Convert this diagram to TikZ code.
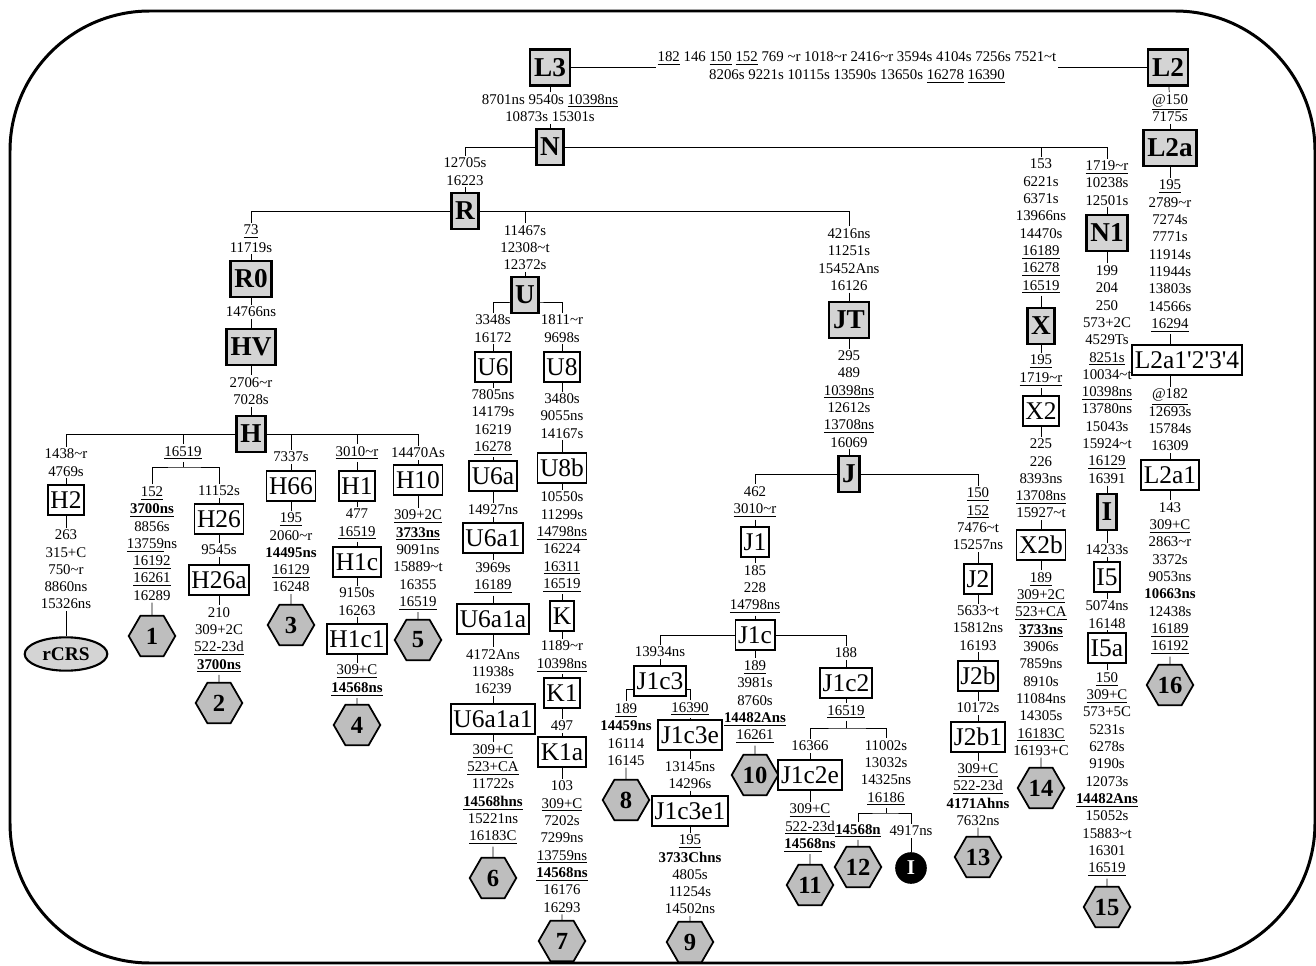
\documentclass[tikz,border=0pt]{standalone}
\usepackage{fontspec}
\setmainfont{Liberation Serif}
\usetikzlibrary{shapes.geometric,backgrounds}
\newcommand{\unl}[1]{\underline{#1}}
\newcommand{\tild}{\textasciitilde}
\definecolor{boxgray}{HTML}{D4D4D4}
\definecolor{hexgray}{HTML}{BEBEBE}
\tikzset{
  grpbox/.style={draw,line width=1.6pt,fill=boxgray,font=\fontsize{15.5}{18}\selectfont\bfseries,inner xsep=2.3pt,inner ysep=1pt,minimum height=20.5pt},
  subbox/.style={draw,line width=1pt,fill=white,font=\fontsize{14.5}{17}\selectfont,inner xsep=1.5pt,inner ysep=1pt,minimum height=17pt},
  muttext/.style={font=\fontsize{8.45}{9.86}\selectfont,align=center,inner sep=1pt},
  hexnode/.style={regular polygon,regular polygon sides=6,draw,line width=1pt,fill=hexgray,minimum size=26.5pt,inner sep=0pt,font=\fontsize{14}{16}\selectfont\bfseries},
  linkline/.style={line width=1pt}
}
\begin{document}
\begin{tikzpicture}[x=0.02cm,y=-0.02cm]
\useasboundingbox (0,0) rectangle (1316,966);
\draw[line width=1.7pt,rounded corners=2.8cm] (10,11) rectangle (1315,963);
% root
\node[grpbox] (L3) at (550,67.5) {L3};
\node[muttext] (mL3L2) at (857,67.5) {\unl{182} 146 \unl{150} \unl{152} 769 \tild r 1018\tild r 2416\tild r 3594s 4104s 7256s 7521\tild t\\8206s 9221s 10115s 13590s 13650s \unl{16278} \unl{16390}};
\node[grpbox] (L2) at (1168,67.5) {L2};
\node[muttext] (mL3N) at (550,108) {8701ns 9540s \unl{10398ns}\\10873s 15301s};
\node[grpbox] (N) at (550,147) {N};
\node[muttext] (mR) at (465,171.5) {12705s\\16223};
\node[grpbox] (R) at (465,211) {R};
% HV / H
\node[muttext] (mR0) at (251,238.5) {\unl{73}\\11719s};
\node[grpbox] (R0) at (251,279) {R0};
\node[muttext] (mHV) at (251,312) {14766ns};
\node[grpbox] (HV) at (251,347) {HV};
\node[muttext] (mH) at (251,391) {2706\tild r\\7028s};
\node[grpbox] (H) at (251,434) {H};
\node[muttext] (mH2) at (66,462.5) {1438\tild r\\4769s};
\node[subbox] (H2) at (66,500) {H2};
\node[muttext] (mH2b) at (66,569.5) {263\\315+C\\750\tild r\\8860ns\\15326ns};
\node[ellipse,draw,line width=1.2pt,fill=boxgray,minimum width=47pt,minimum height=19pt,inner sep=0pt,font=\fontsize{11}{13}\selectfont\bfseries] (rcrs) at (66,654) {rCRS};
\node[muttext] (mG) at (183,453) {\unl{16519}};
\coordinate (b16519) at (183,467);
\node[muttext] (m1) at (152,543.5) {\unl{152}\\\textbf{\unl{3700ns}}\\8856s\\\unl{13759}ns\\\unl{16192}\\\unl{16261}\\16289};
\node[hexnode] (hex1) at (152,636) {1};
\node[muttext] (mH26) at (219,491) {11152s};
\node[subbox] (H26) at (219,519) {H26};
\node[muttext] (mH26a) at (219,550) {9545s};
\node[subbox] (H26a) at (219,580) {H26a};
\node[muttext] (m2) at (219,640) {210\\309+2C\\\unl{522-23d}\\\textbf{\unl{3700ns}}};
\node[hexnode] (hex2) at (219,703) {2};
\node[muttext] (mH66) at (291,457) {7337s};
\node[subbox] (H66) at (291,486) {H66};
\node[muttext] (m3) at (291,552.5) {\unl{195}\\2060\tild r\\\textbf{14495ns}\\\unl{16129}\\16248};
\node[hexnode] (hex3) at (291,625) {3};
\node[muttext] (mH1) at (357,453) {\unl{3010\tild r}};
\node[subbox] (H1) at (357,486) {H1};
\node[muttext] (mH1c) at (357,524.5) {477\\\unl{16519}};
\node[subbox] (H1c) at (357,562) {H1c};
\node[muttext] (mH1c1) at (357,601.5) {9150s\\16263};
\node[subbox] (H1c1) at (357,639) {H1c1};
\node[muttext] (m4) at (357,680.5) {\unl{309+C}\\\textbf{\unl{14568ns}}};
\node[hexnode] (hex4) at (357,725) {4};
\node[muttext] (mH10) at (418,453) {14470As};
\node[subbox] (H10) at (418,480) {H10};
\node[muttext] (m5) at (418,560) {\unl{309+2C}\\\textbf{\unl{3733ns}}\\9091ns\\15889\tild t\\16355\\\unl{16519}};
\node[hexnode] (hex5) at (418,640) {5};
% U / K
\node[muttext] (mU) at (525,247.5) {11467s\\12308\tild t\\12372s};
\node[grpbox] (U) at (525,295) {U};
\coordinate (bU) at (525,302);
\node[muttext] (mU6) at (493,328.5) {3348s\\16172};
\node[subbox] (U6) at (493,367) {U6};
\node[muttext] (mU6a) at (493,422.5) {7805ns\\14179s\\16219\\\unl{16278}};
\node[subbox] (U6a) at (493,476) {U6a};
\node[muttext] (mU6a1) at (493,510) {14927ns};
\node[subbox] (U6a1) at (493,538) {U6a1};
\node[muttext] (mU6a1a) at (493,578) {3969s\\\unl{16189}};
\node[subbox] (U6a1a) at (493,619) {U6a1a};
\node[muttext] (mU6a1a1) at (493,671.5) {4172Ans\\11938s\\16239};
\node[subbox] (U6a1a1) at (493,719) {U6a1a1};
\node[muttext] (m6) at (493,794.5) {\unl{309+C}\\\unl{523+CA}\\11722s\\\textbf{\unl{14568hns}}\\15221ns\\\unl{16183C}};
\node[hexnode] (hex6) at (493,878) {6};
\node[muttext] (mU8) at (562,328.5) {1811\tild r\\9698s};
\node[subbox] (U8) at (562,367) {U8};
\node[muttext] (mU8b) at (562,416) {3480s\\9055ns\\14167s};
\node[subbox] (U8b) at (562,468) {U8b};
\node[muttext] (mK) at (562,542) {10550s\\11299s\\\unl{14798ns}\\16224\\\unl{16311}\\\unl{16519}};
\node[subbox] (K) at (562,616) {K};
\node[muttext] (mK1) at (562,656.5) {1189\tild r\\\unl{10398ns}};
\node[subbox] (K1) at (562,693) {K1};
\node[muttext] (mK1a) at (562,726) {497};
\node[subbox] (K1a) at (562,752) {K1a};
\node[muttext] (m7) at (562,846.5) {103\\\unl{309+C}\\7202s\\7299ns\\\unl{13759ns}\\\textbf{\unl{14568ns}}\\16176\\16293};
\node[hexnode] (hex7) at (562,941) {7};
% JT / J
\node[muttext] (mJT) at (849,259.5) {4216ns\\11251s\\15452Ans\\16126};
\node[grpbox] (JT) at (849,320) {JT};
\node[muttext] (mJ) at (849,399) {295\\489\\\unl{10398ns}\\12612s\\\unl{13708ns}\\16069};
\node[grpbox] (J) at (849,474) {J};
\node[muttext] (mJ1) at (755,502) {462\\\unl{3010\tild r}};
\node[subbox] (J1) at (755,542) {J1};
\node[muttext] (mJ1c) at (755,589.5) {185\\228\\\unl{14798ns}};
\node[subbox] (J1c) at (755,635) {J1c};
\node[muttext] (mJ1c3) at (660,652) {13934ns};
\node[subbox] (J1c3) at (660,681) {J1c3};
\node[muttext] (m8) at (626,734.5) {\unl{189}\\\textbf{14459ns}\\16114\\16145};
\node[hexnode] (hex8) at (626,800) {8};
\node[muttext] (mJ1c3e) at (690,709) {\unl{16390}};
\node[subbox] (J1c3e) at (690,735) {J1c3e};
\node[muttext] (mJ1c3e1) at (690,775) {13145ns\\14296s};
\node[subbox] (J1c3e1) at (690,811) {J1c3e1};
\node[muttext] (m9) at (690,874.5) {\unl{195}\\\textbf{3733Chns}\\4805s\\11254s\\14502ns};
\node[hexnode] (hex9) at (690,942) {9};
\node[muttext] (m10) at (755,702) {\unl{189}\\3981s\\8760s\\\textbf{\unl{14482Ans}}\\\unl{16261}};
\node[hexnode] (hex10) at (755,775) {10};
\node[muttext] (mJ1c2) at (846,653) {188};
\node[subbox] (J1c2) at (846,683) {J1c2};
\node[muttext] (mJ1c2s) at (846,712) {\unl{16519}};
\coordinate (bJ1c2) at (846,728);
\node[muttext] (mJ1c2e) at (810,746) {16366};
\node[subbox] (J1c2e) at (810,775) {J1c2e};
\node[muttext] (m11) at (810,828) {\unl{309+C}\\\unl{522-23d}\\\textbf{\unl{14568}ns}};
\node[hexnode] (hex11) at (810,885) {11};
\node[muttext] (mB) at (886,773) {11002s\\13032s\\14325ns\\\unl{16186}};
\coordinate (bB) at (886,813);
\node[muttext] (m12) at (858,831) {\textbf{\unl{14568n}}};
\node[hexnode] (hex12) at (858,867) {12};
\node[muttext] (m4917) at (911,831) {4917ns};
\node[circle,fill=black,minimum size=18pt,inner sep=0pt,text=white,font=\fontsize{12}{14}\selectfont\bfseries] (dotI) at (911,868) {I};
\node[muttext] (mJ2) at (978,519) {\unl{150}\\\unl{152}\\7476\tild t\\15257ns};
\node[subbox] (J2) at (978,579) {J2};
\node[muttext] (mJ2b) at (978,628) {5633\tild t\\15812ns\\16193};
\node[subbox] (J2b) at (978,676) {J2b};
\node[muttext] (mJ2b1) at (978,708) {10172s};
\node[subbox] (J2b1) at (978,737) {J2b1};
\node[muttext] (m13) at (978,794.5) {\unl{309+C}\\\unl{522-23d}\\\textbf{4171Ahns}\\7632ns};
\node[hexnode] (hex13) at (978,857) {13};
% X, N1 / I
\node[muttext] (mX) at (1041,226.5) {153\\6221s\\6371s\\13966ns\\14470s\\\unl{16189}\\\unl{16278}\\\unl{16519}};
\node[grpbox] (X) at (1041,326) {X};
\node[muttext] (mX2) at (1041,370.5) {\unl{195}\\\unl{1719\tild r}};
\node[subbox] (X2) at (1041,411) {X2};
\node[muttext] (mX2b) at (1041,478.5) {225\\226\\8393ns\\\unl{13708ns}\\15927\tild t};
\node[subbox] (X2b) at (1041,545) {X2b};
\node[muttext] (m14) at (1041,664) {\unl{189}\\\unl{309+2C}\\\unl{523+CA}\\\textbf{\unl{3733ns}}\\3906s\\7859ns\\8910s\\11084ns\\14305s\\\unl{16183C}\\16193+C};
\node[hexnode] (hex14) at (1041,788) {14};
\node[muttext] (mN1) at (1107,183) {\unl{1719\tild r}\\10238s\\12501s};
\node[grpbox] (N1) at (1107,233) {N1};
\node[muttext] (mI) at (1107,374.5) {199\\204\\250\\573+2C\\4529Ts\\\unl{8251s}\\10034\tild t\\\unl{10398ns}\\13780ns\\15043s\\15924\tild t\\\unl{16129}\\16391};
\node[grpbox] (I) at (1107,512) {I};
\node[muttext] (mI5) at (1107,550) {14233s};
\node[subbox] (I5) at (1107,577) {I5};
\node[muttext] (mI5a) at (1107,614.5) {5074ns\\16148};
\node[subbox] (I5a) at (1107,648) {I5a};
\node[muttext] (m15) at (1107,774.5) {\unl{150}\\\unl{309+C}\\573+5C\\5231s\\6278s\\9190s\\12073s\\\textbf{\unl{14482Ans}}\\15052s\\15883\tild t\\16301\\\unl{16519}};
\node[hexnode] (hex15) at (1107,907) {15};
% L2
\node[muttext] (mL2a) at (1170,108) {\unl{@150}\\7175s};
\node[grpbox] (L2a) at (1170,148) {L2a};
\node[muttext] (mL2a1234) at (1170,256) {\unl{195}\\2789\tild r\\7274s\\7771s\\11914s\\11944s\\13803s\\14566s\\\unl{16294}};
\node[subbox] (L2a1234) at (1187,360) {L2a1\textquotesingle 2\textquotesingle 3\textquotesingle 4};
\node[muttext] (mL2a1) at (1170,420) {\unl{@182}\\12693s\\15784s\\16309};
\node[subbox] (L2a1) at (1170,475) {L2a1};
\node[muttext] (m16) at (1170,578.5) {143\\\unl{309+C}\\2863\tild r\\3372s\\9053ns\\\textbf{10663ns}\\12438s\\\unl{16189}\\\unl{16192}};
\node[hexnode] (hex16) at (1170,685) {16};
% connectors
\begin{scope}[on background layer,linkline]
\draw (L3) -- (mL3L2);
\draw (mL3L2) -- (L2);
\draw (L3) -- (mL3N);
\draw (mL3N) -- (N);
\draw (N) -| (mR);
\draw (N) -| (mN1);
\draw (mX) -- (mX |- N);
\draw (mR) -- (R);
\draw (R) -| (mR0);
\draw (R) -| (mJT);
\draw (mU) -- (mU |- R);
\draw (mR0) -- (R0);
\draw (R0) -- (mHV);
\draw (mHV) -- (HV);
\draw (HV) -- (mH);
\draw (mH) -- (H);
\draw (H) -| (mH2);
\draw (H) -| (mH10);
\draw (mG) -- (mG |- H);
\draw (mH66) -- (mH66 |- H);
\draw (mH1) -- (mH1 |- H);
\draw (mH2) -- (H2);
\draw (H2) -- (mH2b);
\draw (mH2b) -- (rcrs);
\draw (mG) -- (b16519);
\draw (m1) |- (b16519) -| (mH26);
\draw (m1) -- (hex1);
\draw (mH26) -- (H26);
\draw (H26) -- (mH26a);
\draw (mH26a) -- (H26a);
\draw (H26a) -- (m2);
\draw (m2) -- (hex2);
\draw (mH66) -- (H66);
\draw (H66) -- (m3);
\draw (m3) -- (hex3);
\draw (mH1) -- (H1);
\draw (H1) -- (mH1c);
\draw (mH1c) -- (H1c);
\draw (H1c) -- (mH1c1);
\draw (mH1c1) -- (H1c1);
\draw (H1c1) -- (m4);
\draw (m4) -- (hex4);
\draw (mH10) -- (H10);
\draw (H10) -- (m5);
\draw (m5) -- (hex5);
\draw (mU) -- (U);
\draw (mU6) |- (bU) -| (mU8);
\draw (mU6) -- (U6);
\draw (U6) -- (mU6a);
\draw (mU6a) -- (U6a);
\draw (U6a) -- (mU6a1);
\draw (mU6a1) -- (U6a1);
\draw (U6a1) -- (mU6a1a);
\draw (mU6a1a) -- (U6a1a);
\draw (U6a1a) -- (mU6a1a1);
\draw (mU6a1a1) -- (U6a1a1);
\draw (U6a1a1) -- (m6);
\draw (m6) -- (hex6);
\draw (mU8) -- (U8);
\draw (U8) -- (mU8b);
\draw (mU8b) -- (U8b);
\draw (U8b) -- (mK);
\draw (mK) -- (K);
\draw (K) -- (mK1);
\draw (mK1) -- (K1);
\draw (K1) -- (mK1a);
\draw (mK1a) -- (K1a);
\draw (K1a) -- (m7);
\draw (m7) -- (hex7);
\draw (mJT) -- (JT);
\draw (JT) -- (mJ);
\draw (mJ) -- (J);
\draw (J) -| (mJ1);
\draw (J) -| (mJ2);
\draw (mJ1) -- (J1);
\draw (J1) -- (mJ1c);
\draw (mJ1c) -- (J1c);
\draw (J1c) -| (mJ1c3);
\draw (J1c) -| (mJ1c2);
\draw (J1c) -- (m10);
\draw (m10) -- (hex10);
\draw (mJ1c3) -- (J1c3);
\draw ([yshift=4pt]J1c3.south west) -| (m8);
\draw ([yshift=4pt]J1c3.south east) -| (mJ1c3e);
\draw (m8) -- (hex8);
\draw (mJ1c3e) -- (J1c3e);
\draw (J1c3e) -- (mJ1c3e1);
\draw (mJ1c3e1) -- (J1c3e1);
\draw (J1c3e1) -- (m9);
\draw (m9) -- (hex9);
\draw (mJ1c2) -- (J1c2);
\draw (J1c2) -- (mJ1c2s);
\draw (mJ1c2s) -- (bJ1c2);
\draw (mJ1c2e) |- (bJ1c2) -| (mB);
\draw (mJ1c2e) -- (J1c2e);
\draw (J1c2e) -- (m11);
\draw (m11) -- (hex11);
\draw (mB) -- (bB);
\draw (m12) |- (bB) -| (m4917);
\draw (m12) -- (hex12);
\draw (m4917) -- (dotI);
\draw (mJ2) -- (J2);
\draw (J2) -- (mJ2b);
\draw (mJ2b) -- (J2b);
\draw (J2b) -- (mJ2b1);
\draw (mJ2b1) -- (J2b1);
\draw (J2b1) -- (m13);
\draw (m13) -- (hex13);
\draw (mX) -- (X);
\draw (X) -- (mX2);
\draw (mX2) -- (X2);
\draw (X2) -- (mX2b);
\draw (mX2b) -- (X2b);
\draw (X2b) -- (m14);
\draw (m14) -- (hex14);
\draw (mN1) -- (N1);
\draw (N1) -- (mI);
\draw (mI) -- (I);
\draw (I) -- (mI5);
\draw (mI5) -- (I5);
\draw (I5) -- (mI5a);
\draw (mI5a) -- (I5a);
\draw (I5a) -- (m15);
\draw (m15) -- (hex15);
\draw (L2) -- (mL2a);
\draw (mL2a) -- (L2a);
\draw (L2a) -- (mL2a1234);
\draw (mL2a1234) -- (mL2a1234 |- L2a1234.north);
\draw (L2a1234.south -| mL2a1) -- (mL2a1);
\draw (mL2a1) -- (L2a1);
\draw (L2a1) -- (m16);
\draw (m16) -- (hex16);
\end{scope}
\end{tikzpicture}
\end{document}
